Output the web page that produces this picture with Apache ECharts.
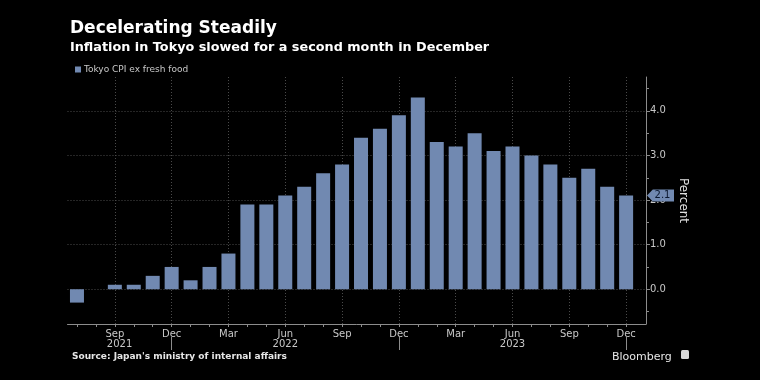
<!DOCTYPE html>
<html>
<head>
<meta charset="utf-8">
<script src="https://cdn.jsdelivr.net/npm/echarts@6/dist/echarts.min.js"></script>
<style>
html,body{margin:0;padding:0;background:#000;}
#chart{width:760px;height:380px;}
</style>
</head>
<body>
<div id="chart"></div>
<script>
// ---- data ----
const months = ['Jul','Aug','Sep','Oct','Nov','Dec','Jan','Feb','Mar','Apr','May','Jun',
                'Jul','Aug','Sep','Oct','Nov','Dec','Jan','Feb','Mar','Apr','May','Jun',
                'Jul','Aug','Sep','Oct','Nov','Dec'];
const years = [2021,2021,2021,2021,2021,2021,
               2022,2022,2022,2022,2022,2022,2022,2022,2022,2022,2022,2022,
               2023,2023,2023,2023,2023,2023,2023,2023,2023,2023,2023,2023];
const cpi = [-0.3,0.0,0.1,0.1,0.3,0.5,0.2,0.5,0.8,1.9,1.9,2.1,
             2.3,2.6,2.8,3.4,3.6,3.9,4.3,3.3,3.2,3.5,3.1,3.2,
             3.0,2.8,2.5,2.7,2.3,2.1];
const quarterMonths = ['Mar','Jun','Sep','Dec'];
const yTicks = [0,1,2,3,4];
const yMinorTicks = [-0.5,0.5,1.5,2.5,3.5,4.5];
const seriesName = 'Tokyo CPI ex fresh food';

// ---- derived ----
const idx = months.map((m,i)=>i);
const quarterIdx = idx.filter(i=>quarterMonths.includes(months[i]));
const yearList = [...new Set(years)];
const xMin = -0.5, xMax = 30.05;
const yMin = -0.78, yMax = 4.76;
const sepIdx = yearList.map(y=>years.lastIndexOf(y));
const yearPos = yearList.map((y,k)=>{
  const start = k===0 ? xMin : sepIdx[k-1];
  return (start + sepIdx[k]) / 2;
});
const lastVal = cpi[cpi.length-1];

const gray = '#8c8c8c';
const txt = '#c8c8c8';
const font = 'DejaVu Sans';

const chart = echarts.init(document.getElementById('chart'), null, {renderer:'canvas'});
chart.setOption({
  backgroundColor:'#000',
  animation:false,
  title:[
    {text:'Decelerating Steadily', left:65, top:15,
     textStyle:{fontFamily:font, fontWeight:'bold', fontSize:17, color:'#fff'}},
    {text:'Inflation in Tokyo slowed for a second month in December', left:65, top:36,
     textStyle:{fontFamily:font, fontWeight:'bold', fontSize:12.8, color:'#fff'}},
    {text:"Source: Japan's ministry of internal affairs", left:67, top:347,
     textStyle:{fontFamily:font, fontWeight:'bold', fontSize:9, color:'#e6e6e6'}},
    {text:'Bloomberg', left:607, top:347,
     textStyle:{fontFamily:font, fontWeight:'normal', fontSize:11, color:'#e6e6e6'}}
  ],
  graphic:[
    {type:'rect', left:681, top:350, shape:{width:8,height:9,r:1.5}, style:{fill:'#d8d8d8'}}
  ],
  legend:{
    data:[seriesName], left:70, top:60, icon:'rect', itemWidth:6, itemHeight:6, itemGap:4,
    textStyle:{fontFamily:font, fontSize:9, color:txt, padding:[0,0,0,-2]}
  },
  grid:{left:67.5, right:114, top:77, bottom:56, containLabel:false},
  xAxis:[
    {type:'value', min:xMin, max:xMax, position:'bottom',
     axisLine:{show:true, onZero:false, lineStyle:{color:gray, width:1}},
     axisTick:{show:true, customValues:quarterIdx, length:3, lineStyle:{color:gray}},
     axisLabel:{show:true, customValues:quarterIdx, formatter:v=>months[Math.round(v)],
                color:txt, fontFamily:font, fontSize:10, margin:5},
     splitLine:{show:true, lineStyle:{color:'#4a4a4a', type:[1,2], width:1}}},
    {type:'value', min:xMin, max:xMax, position:'bottom',
     axisLine:{show:false, onZero:false},
     axisTick:{show:true, customValues:idx, length:3, lineStyle:{color:gray}},
     axisLabel:{show:false}, splitLine:{show:false}},
    {type:'value', min:xMin, max:xMax, position:'bottom', offset:13,
     axisLine:{show:false, onZero:false},
     axisTick:{show:true, customValues:sepIdx, length:13, lineStyle:{color:gray}},
     axisLabel:{show:true, customValues:yearPos,
                formatter:v=>{const k=yearPos.findIndex(p=>Math.abs(p-v)<1e-6); return k>=0?String(yearList[k]):'';},
                color:txt, fontFamily:font, fontSize:10, margin:2},
     splitLine:{show:false}}
  ],
  yAxis:[
    {type:'value', min:yMin, max:yMax, position:'right',
     name:'Percent', nameLocation:'middle', nameRotate:-90, nameGap:30,
     nameTextStyle:{color:'#e0e0e0', fontFamily:font, fontSize:12},
     axisLine:{show:true, onZero:false, lineStyle:{color:gray, width:1}},
     axisTick:{show:true, customValues:yTicks, length:4, lineStyle:{color:gray}},
     axisLabel:{show:true, customValues:yTicks, formatter:v=>v.toFixed(1),
                color:txt, fontFamily:font, fontSize:10, margin:4},
     splitLine:{show:true, lineStyle:{color:'#4a4a4a', type:[1,2], width:1}}},
    {type:'value', min:yMin, max:yMax, position:'right',
     axisLine:{show:false, onZero:false},
     axisTick:{show:true, customValues:yMinorTicks, length:3, lineStyle:{color:gray}},
     axisLabel:{show:false}, splitLine:{show:false}}
  ],
  series:[{
    name:seriesName, type:'bar', xAxisIndex:0, yAxisIndex:0,
    data:cpi.map((v,i)=>[i,v]), barWidth:14,
    itemStyle:{color:'#7189b1'},
    markPoint:{
      z:20, silent:true,
      data:[{coord:[xMax,lastVal], value:lastVal}],
      symbol:'path://M0,6 L6,0 L28,0 L28,12 L6,12 Z',
      symbolSize:[27,12], symbolKeepAspect:false, symbolOffset:[14.5,0],
      itemStyle:{color:'#7189b1'},
      label:{show:true, position:'inside', offset:[2,0], formatter:p=>p.value.toFixed(1),
             color:'#0b1830', fontFamily:font, fontSize:10}
    }
  }]
});
</script>
</body>
</html>
